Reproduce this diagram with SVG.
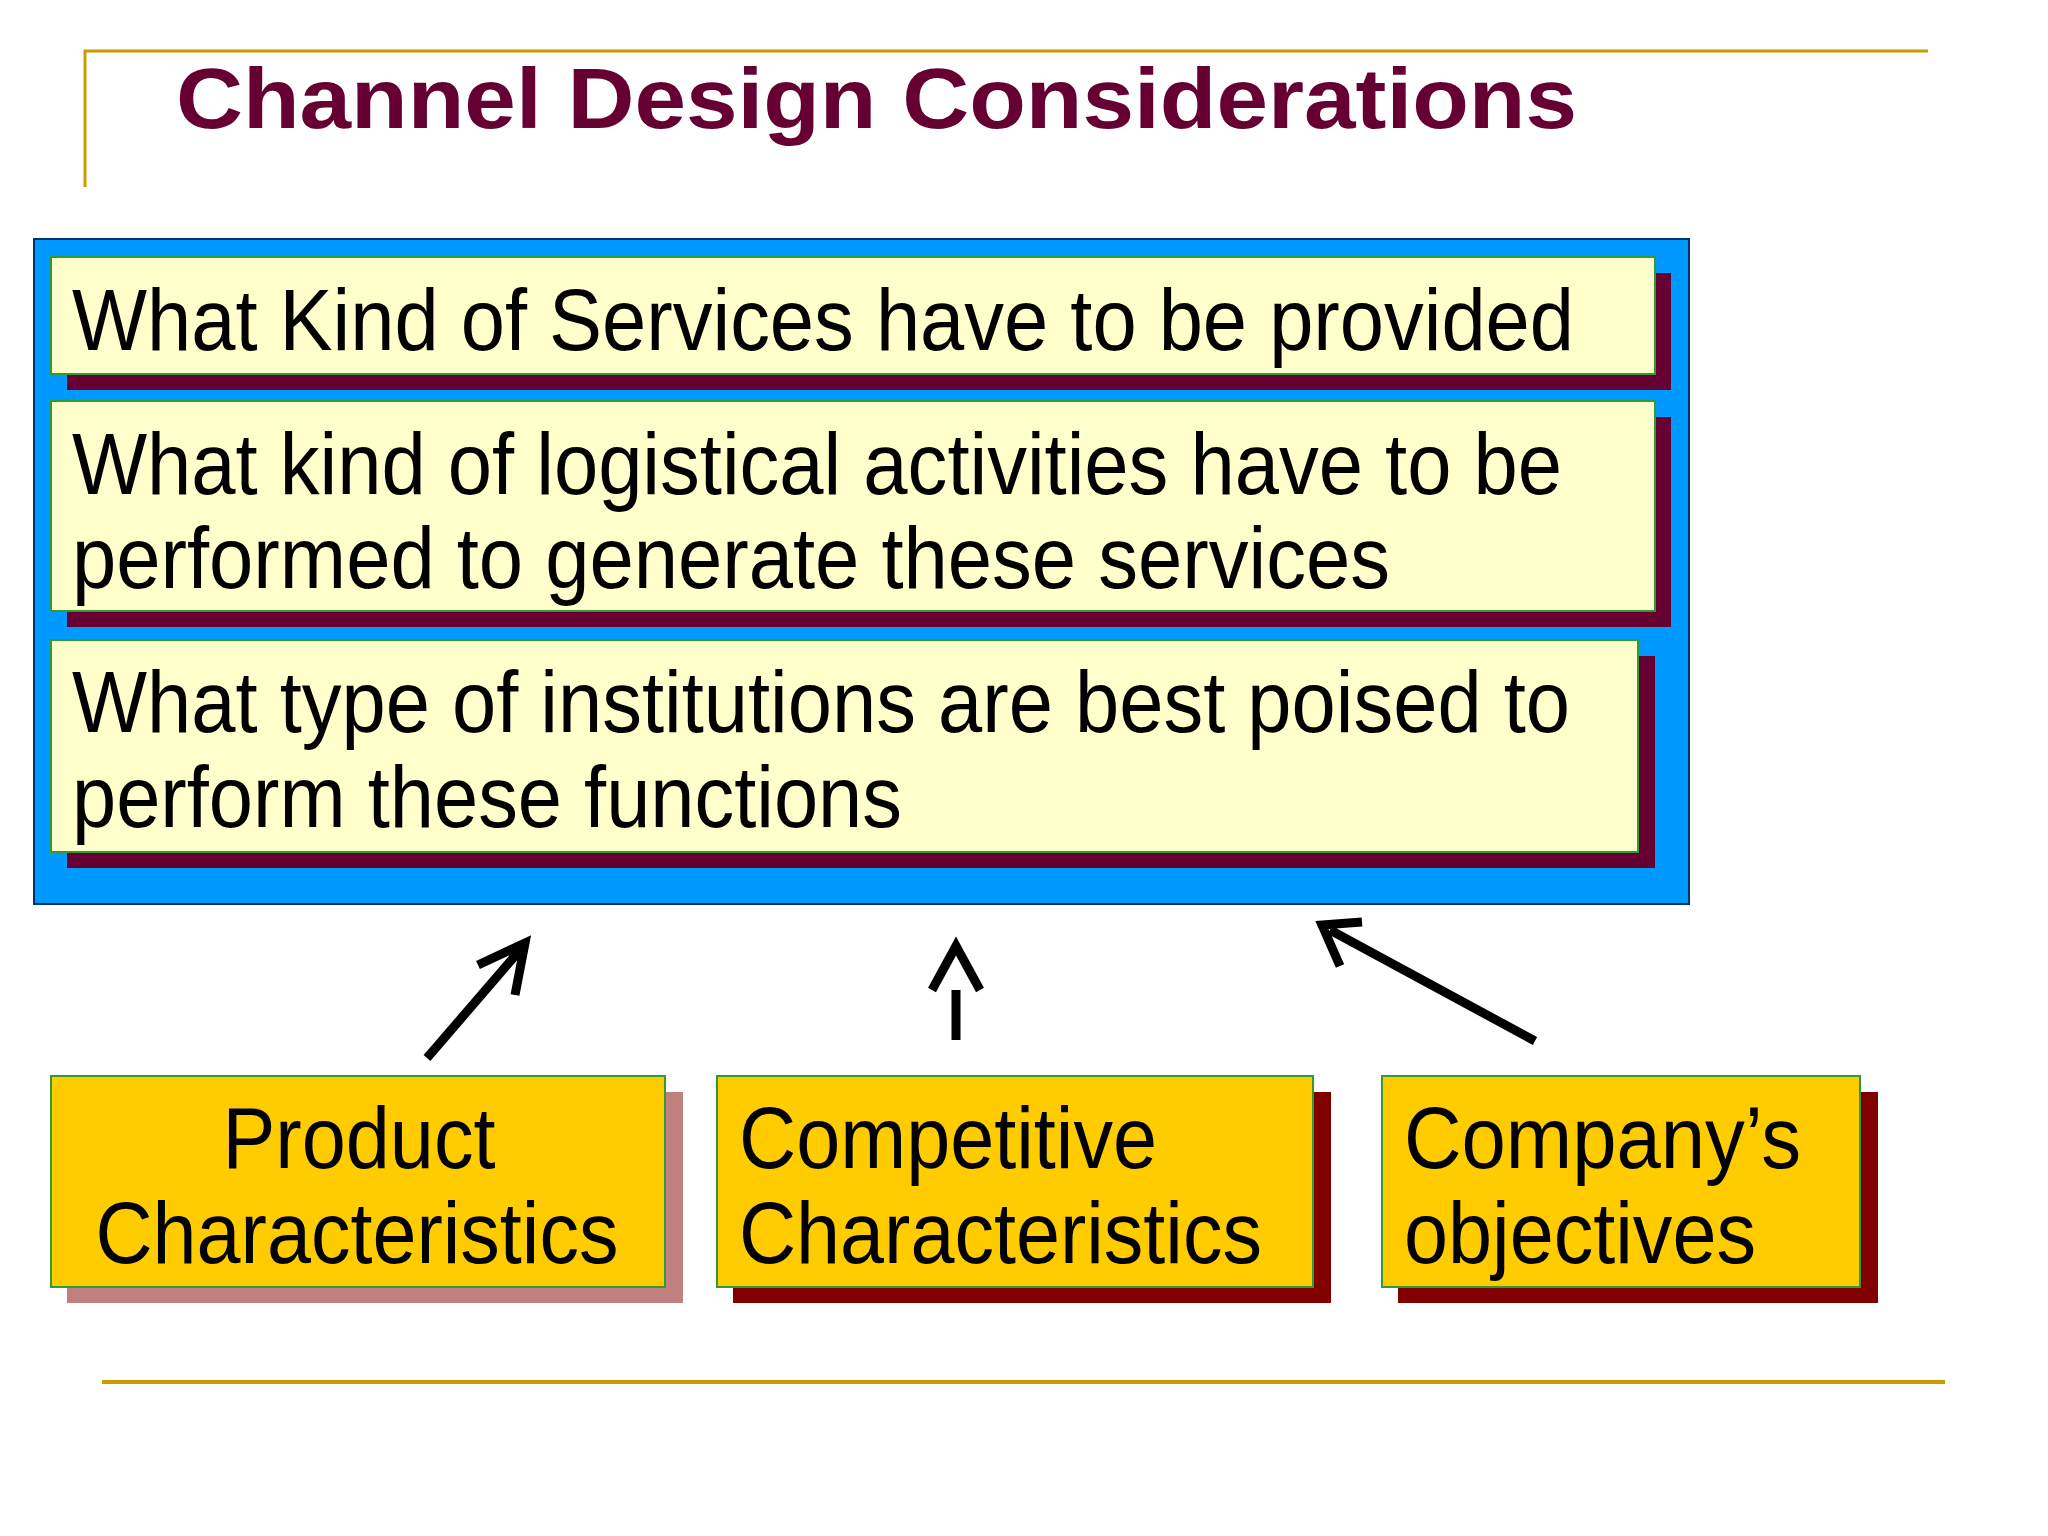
<svg xmlns="http://www.w3.org/2000/svg" width="2048" height="1536" viewBox="0 0 2048 1536">
<style>
.t{font-family:"Liberation Sans",Arial,sans-serif;font-size:88px;fill:#000}
.q{fill:#FFFFCC;stroke:#339933;stroke-width:2}
.y{fill:#FFCC00;stroke:#339933;stroke-width:2}
.s{fill:#660033}
.a{stroke:#000;stroke-width:9;fill:none}
</style>
<rect width="2048" height="1536" fill="#fff"/>
<path d="M85 187V51H1928" stroke="#CC9900" stroke-width="3" fill="none"/>
<line x1="102" y1="1382" x2="1945" y2="1382" stroke="#CC9900" stroke-width="4"/>
<text x="176" y="128" font-family="Liberation Sans,Arial,sans-serif" font-weight="bold" font-size="86" fill="#660033" textLength="1401" lengthAdjust="spacingAndGlyphs">Channel Design Considerations</text>
<g id="main">
<rect x="34" y="239" width="1655" height="665" fill="#0099FF" stroke="#003366" stroke-width="2"/>
</g>
<g id="q1"><rect class="s" x="67" y="273" width="1604" height="117"/><rect class="q" x="51" y="257" width="1604" height="117"/>
<text class="t" x="72" y="350" textLength="1502" lengthAdjust="spacingAndGlyphs">What Kind of Services have to be provided</text></g>
<g id="q2"><rect class="s" x="67" y="417" width="1604" height="210"/><rect class="q" x="51" y="401" width="1604" height="210"/>
<text class="t" x="72" y="494" textLength="1490" lengthAdjust="spacingAndGlyphs">What kind of logistical activities have to be</text>
<text class="t" x="72" y="588" textLength="1318" lengthAdjust="spacingAndGlyphs">performed to generate these services</text></g>
<g id="q3"><rect class="s" x="67" y="656" width="1588" height="212"/><rect class="q" x="51" y="640" width="1587" height="212"/>
<text class="t" x="72" y="732" textLength="1498" lengthAdjust="spacingAndGlyphs">What type of institutions are best poised to</text>
<text class="t" x="72" y="827" textLength="830" lengthAdjust="spacingAndGlyphs">perform these functions</text></g>
<g id="b1"><rect x="67" y="1092" width="616" height="211" fill="#C08080"/><rect class="y" x="51" y="1076" width="614" height="211"/>
<text class="t" x="359" y="1168" text-anchor="middle" textLength="273" lengthAdjust="spacingAndGlyphs">Product</text>
<text class="t" x="357" y="1263" text-anchor="middle" textLength="523" lengthAdjust="spacingAndGlyphs">Characteristics</text></g>
<g id="b2"><rect x="733" y="1092" width="598" height="211" fill="#800000"/><rect class="y" x="717" y="1076" width="596" height="211"/>
<text class="t" x="739" y="1168" textLength="418" lengthAdjust="spacingAndGlyphs">Competitive</text>
<text class="t" x="739" y="1263" textLength="523" lengthAdjust="spacingAndGlyphs">Characteristics</text></g>
<g id="b3"><rect x="1398" y="1092" width="480" height="211" fill="#800000"/><rect class="y" x="1382" y="1076" width="478" height="211"/>
<text class="t" x="1404" y="1168" textLength="397" lengthAdjust="spacingAndGlyphs">Company’s</text>
<text class="t" x="1404" y="1263" textLength="352" lengthAdjust="spacingAndGlyphs">objectives</text></g>
<g id="connectors">
<path class="a" d="M427 1058L520 950M478 965L525 943L515 995"/>
<path class="a" d="M956 1040V990M932 990L956 946L980 990"/>
<path class="a" d="M1535 1041L1330 930M1362 922L1322 925L1340 966"/>
</g>
</svg>
